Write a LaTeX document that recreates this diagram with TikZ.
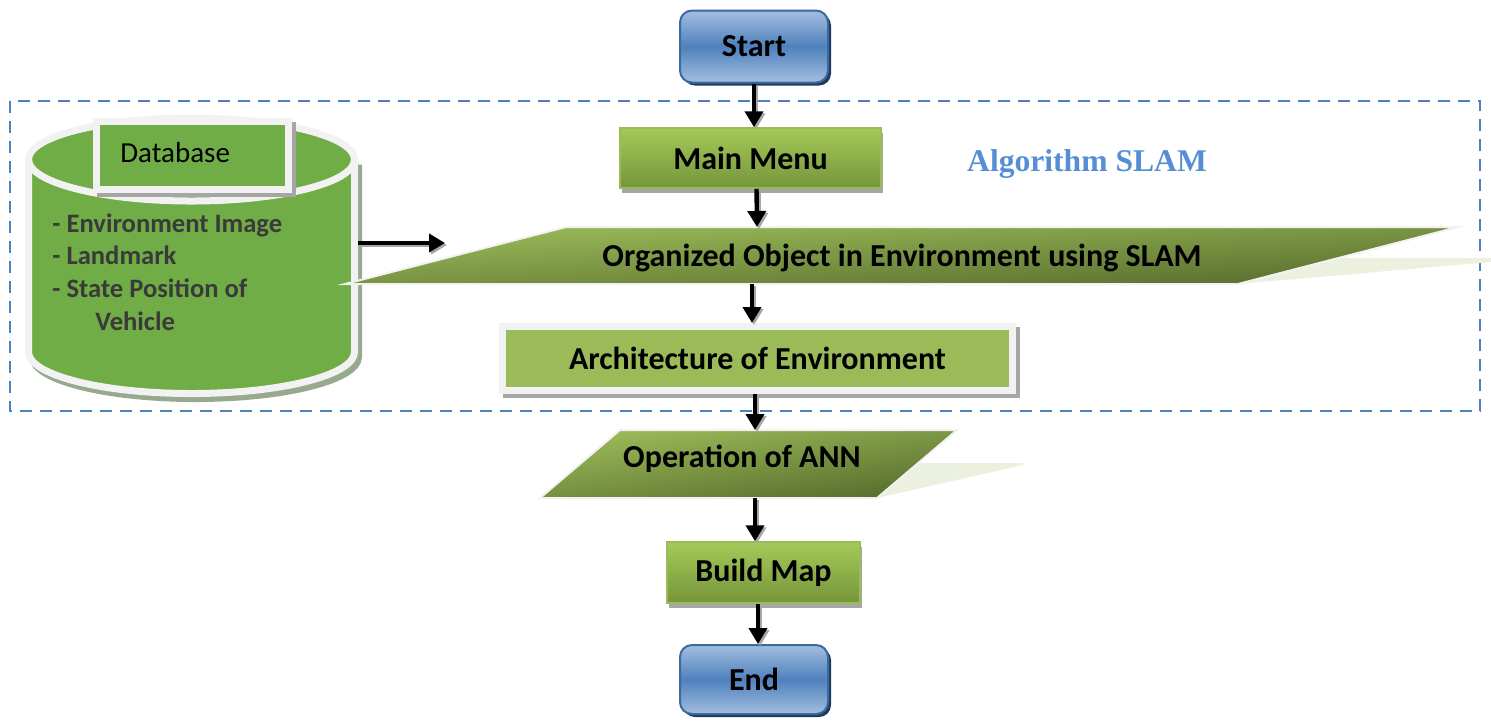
\documentclass[tikz,border=0pt]{standalone}
\usepackage{fontspec}
\setmainfont{Carlito}
\newfontfamily\titleserif{Liberation Serif}
\usetikzlibrary{arrows.meta,calc}

\definecolor{frameblue}{HTML}{4F81BD}
\definecolor{titleblue}{HTML}{558ED5}
\definecolor{termtop}{HTML}{A3BEE0}
\definecolor{termmid}{HTML}{4F81BD}
\definecolor{termedge}{HTML}{3B6A9E}
\definecolor{termshadow}{HTML}{1F3A60}
\definecolor{proctop}{HTML}{A4CA58}
\definecolor{procbot}{HTML}{76953B}
\definecolor{procedge}{HTML}{9BBB59}
\definecolor{flatgreen}{HTML}{9BBB59}
\definecolor{dbgreen}{HTML}{70AD47}
\definecolor{dbshadow}{HTML}{98AA8E}
\definecolor{rim}{HTML}{F2F2F2}
\definecolor{olivelight}{HTML}{9DBD5A}
\definecolor{olivedark}{HTML}{566B2C}
\definecolor{paleolive}{HTML}{EBF1DE}
\definecolor{listgray}{HTML}{3A3A3A}
\definecolor{boxshadow}{HTML}{A6A6A6}

\begin{document}
\begin{tikzpicture}[x=0.5pt,y=-0.5pt,
  >={Triangle[length=8pt,width=9pt]},
  labelfont/.style={font=\fontsize{16}{19}\selectfont\bfseries},
  terminal/.style={labelfont, rounded corners=6pt, draw=termedge, line width=1pt,
    top color=termtop, bottom color=termtop, middle color=termmid,
    minimum width=74pt, minimum height=36pt,
    preaction={fill=termshadow, transform canvas={shift={(1.5pt,-1.5pt)}}}},
  process/.style={labelfont, draw=procedge, line width=0.75pt,
    top color=proctop, bottom color=procbot,
    preaction={fill=boxshadow, transform canvas={shift={(0.75pt,-2.5pt)}}}},
  framedbox/.style={draw=rim, line width=3.5pt,
    preaction={fill=boxshadow, draw=boxshadow, line width=3.5pt,
      transform canvas={shift={(2pt,-2pt)}}}},
  slant/.style={draw=rim, line width=1pt, top color=olivelight, bottom color=olivedark},
  listtext/.style={anchor=base west, text=listgray,
    font=\fontsize{13.3}{16}\selectfont\bfseries, inner sep=0pt},
  flow/.style={line width=2.2pt, ->,
    preaction={draw=black!35, line width=2.2pt, ->,
      transform canvas={shift={(1pt,-1pt)}}}}
]
\useasboundingbox (0,0) rectangle (1491,720);

% frame around the SLAM part of the process
\draw[frameblue, line width=1.4pt, dash pattern=on 6pt off 4pt]
  (10,101) rectangle (1480,411);
\node[font=\titleserif\fontsize{15.8}{18}\selectfont\bfseries, text=titleblue]
  (slamtitle) at (1087,164) {Algorithm SLAM};

% database cylinder: shadow, body, front rim of the lid
\fill[dbshadow] (32.5,164.5) -- ++(0,192.5)
  arc[start angle=180, end angle=360, x radius=81.5pt, y radius=20.75pt]
  -- ++(0,-192.5)
  arc[start angle=0, end angle=180, x radius=81.5pt, y radius=20.75pt] -- cycle;
\draw[dbshadow, line width=3.5pt] (32.5,164.5) -- ++(0,192.5)
  arc[start angle=180, end angle=360, x radius=81.5pt, y radius=20.75pt]
  -- ++(0,-192.5);
\filldraw[fill=dbgreen, draw=rim, line width=3.5pt] (28.5,159.5) -- ++(0,192.5)
  arc[start angle=180, end angle=360, x radius=81.5pt, y radius=20.75pt]
  -- ++(0,-192.5)
  arc[start angle=0, end angle=180, x radius=81.5pt, y radius=20.75pt] -- cycle;
\draw[rim, line width=3.5pt] (28.5,159.5)
  arc[start angle=180, end angle=360, x radius=81.5pt, y radius=20.75pt];
\coordinate (db-east) at (358,243);
\coordinate (db-tip) at (445,243);

\node[framedbox, fill=dbgreen, minimum width=96pt, minimum height=34pt]
  (dbhead) at (192.5,155.5) {};
\node[anchor=base west, font=\fontsize{14.5}{17}\selectfont, inner sep=0pt]
  (dbname) at (120,162) {Database};
\node[listtext] (item1) at (52,232) {- Environment Image};
\node[listtext] (item2) at (52,264) {- Landmark};
\node[listtext] (item3) at (52,297) {- State Position of};
\node[listtext] (item4) at (95,330) {Vehicle};

% flow steps
\node[terminal] (start) at (754,46.5) {Start};
\node[process, minimum width=130.5pt, minimum height=30pt] (menu) at (750.5,158) {Main Menu};

\fill[paleolive] (1338,258) -- (1491,258) -- (1491,262) -- (1238,284) -- cycle;
\path[slant, shading angle=3] (566,227) -- (1458,227) -- (1238,284) -- (345,284) -- cycle;
\node[labelfont] (organize) at (902,258) {Organized Object in Environment using SLAM};
\coordinate (org-top) at (757,227);
\coordinate (org-bot) at (752,284);

\node[framedbox, fill=flatgreen, labelfont, minimum width=255pt, minimum height=32pt]
  (arch) at (757.5,358.5) {Architecture of Environment};

\fill[paleolive] (918,463) -- (1023,463) -- (1023,465) -- (877,498) -- cycle;
\path[slant, shading angle=8] (620,430) -- (957,430) -- (877,498) -- (540,498) -- cycle;
\node[labelfont] (ann) at (742,459) {Operation of ANN};
\coordinate (ann-top) at (755,430);
\coordinate (ann-bot) at (755,498);

\node[process, minimum width=96.5pt, minimum height=30.5pt] (build) at (763.5,572.5) {Build Map};
\node[terminal, minimum height=34.5pt] (end) at (754,679.5) {End};

% connectors
\draw[flow] (start.south) -- (start.south |- menu.north);
\draw[flow] ([xshift=3pt]menu.south) -- (org-top);
\draw[flow] (org-bot) -- (org-bot |- arch.north);
\draw[flow] (ann-top |- arch.south) -- (ann-top);
\draw[flow] (ann-bot) -- (ann-bot |- build.north);
\draw[flow] ([xshift=-2.75pt]build.south) -- ([xshift=-2.75pt]build.south |- end.north);
\draw[flow] (db-east) -- (db-tip);
\end{tikzpicture}
\end{document}
